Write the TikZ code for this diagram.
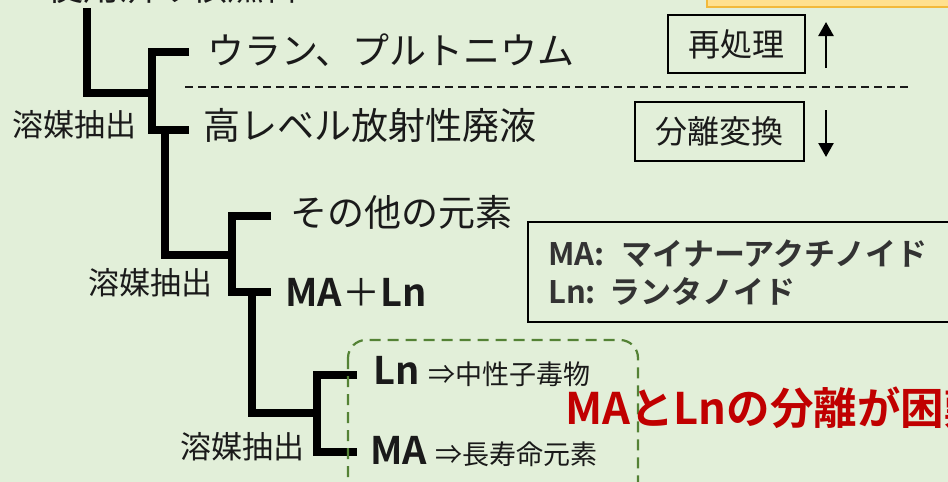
\documentclass[tikz,border=0pt]{standalone}
\usepackage{fontspec}
\setmainfont{Noto Sans CJK JP}[BoldFont={Noto Sans CJK JP Bold}]
\usetikzlibrary{arrows.meta}
\definecolor{bg}{HTML}{E2EFD9}
\definecolor{txt}{HTML}{1A1A1A}
\definecolor{boxtxt}{HTML}{333333}
\definecolor{redtxt}{HTML}{C00000}
\definecolor{grn}{HTML}{548235}
\definecolor{orfill}{HTML}{FFE08F}
\definecolor{ordraw}{HTML}{F2B93B}
\tikzset{
  tree/.style={line width=7.5pt, line join=miter, draw=black},
  lbl/.style={anchor=west, inner sep=0pt, text=txt, font=\fontsize{37}{40}\selectfont},
  ext/.style={anchor=west, inner sep=0pt, text=txt, font=\fontsize{31}{34}\selectfont},
  proc/.style={draw=black, line width=1.8pt, inner sep=0pt, text=txt, font=\fontsize{32}{34}\selectfont},
  vert/.style={line width=2.5pt, -{Triangle[width=15pt,length=14pt]}},
  legtext/.style={anchor=base west, inner sep=0pt, text=boxtxt, font=\bfseries\fontsize{31}{36}\selectfont}
}
\begin{document}
\begin{tikzpicture}[x=1pt,y=-1pt]
\useasboundingbox (0,0) rectangle (948,482);
\fill[bg] (0,0) rectangle (948,482);
\begin{scope}
\clip (0,0) rectangle (948,482);
% orange box at top right (cut)
\draw[fill=orfill, draw=ordraw, line width=1.5pt] (707,-20) rectangle (960,7);
% top cut text
\node[anchor=base west, inner sep=0pt, text=txt, font=\fontsize{36}{40}\selectfont] (spent) at (47,0.5) {使用済み核燃料};
% tree coordinates
\coordinate (a0) at (87,8);
\coordinate (a1) at (87,93);
\coordinate (a2) at (152,93);
\coordinate (b0) at (189,52);
\coordinate (b1) at (152,52);
\coordinate (b2) at (152,130);
\coordinate (b3) at (189,130);
\coordinate (c0) at (165,130);
\coordinate (c1) at (165,255);
\coordinate (c2) at (232,255);
\coordinate (d0) at (271,216);
\coordinate (d1) at (232,216);
\coordinate (d2) at (232,292);
\coordinate (d3) at (271,292);
\coordinate (e0) at (252,292);
\coordinate (e1) at (252,413);
\coordinate (e2) at (317,413);
\coordinate (f0) at (357,375);
\coordinate (f1) at (317,375);
\coordinate (f2) at (317,452);
\coordinate (f3) at (357,452);
\draw[tree] (a0) -- (a1) -- (a2);
\draw[tree] (b0) -- (b1) -- (b2) -- (b3);
\draw[tree] (c0) -- (c1) -- (c2);
\draw[tree] (d0) -- (d1) -- (d2) -- (d3);
\draw[tree] (e0) -- (e1) -- (e2);
\draw[tree] (f0) -- (f1) -- (f2) -- (f3);
% labels
\node[lbl] (upu) at (207,50) {ウラン、プルトニウム};
\node[lbl] (hlw) at (203,125) {高レベル放射性廃液};
\node[lbl] (other) at (290,212) {その他の元素};
\node[lbl, font=\fontsize{38}{40}\selectfont] (maln) at (285,292) {\textbf{MA}＋\textbf{Ln}};
\node[ext] (sx1) at (12,125) {溶媒抽出};
\node[ext] (sx2) at (88,283) {溶媒抽出};
\node[ext] (sx3) at (180,447) {溶媒抽出};
\node[anchor=base west, inner sep=0pt, text=txt] (ln) at (373,384)
  {\fontsize{38}{40}\selectfont\textbf{Ln} \fontsize{27}{30}\selectfont ⇒中性子毒物};
\node[anchor=base west, inner sep=0pt, text=txt] (ma) at (370,464)
  {\fontsize{38}{40}\selectfont\textbf{MA} \fontsize{27}{30}\selectfont ⇒長寿命元素};
% green dashed rounded box
\draw[grn, line width=2.2pt, dash pattern=on 11pt off 7pt, rounded corners=18pt] (348,340) rectangle (638,510);
% separator dashed line
\coordinate (s0) at (185,87);
\coordinate (s1) at (908,87);
\draw[txt, line width=1.3pt, dash pattern=on 8pt off 5pt] (s0) -- (s1);
% process boxes
\node[proc, minimum width=137pt, minimum height=58pt] (repro) at (736.5,44) {再処理};
\node[proc, minimum width=169pt, minimum height=59pt] (pt) at (719.5,131.5) {分離変換};
\coordinate (u0) at (826,68);
\coordinate (u1) at (826,22);
\coordinate (v0) at (826,110);
\coordinate (v1) at (826,157);
\draw[vert] (u0) -- (u1);
\draw[vert] (v0) -- (v1);
% legend box
\draw[black, line width=2.5pt] (528,222) rectangle (965,322);
\node[legtext] (legma) at (548,265) {MA:\hspace{0.55em}マイナーアクチノイド};
\node[legtext] (legln) at (548,303) {Ln:\hspace{0.45em}ランタノイド};
% red text
\node[anchor=west, inner sep=0pt, text=redtxt, font=\bfseries\fontsize{43.5}{48}\selectfont] (hard) at (565,408)
  {MAとLnの分離が困難};
\end{scope}
\end{tikzpicture}
\end{document}
